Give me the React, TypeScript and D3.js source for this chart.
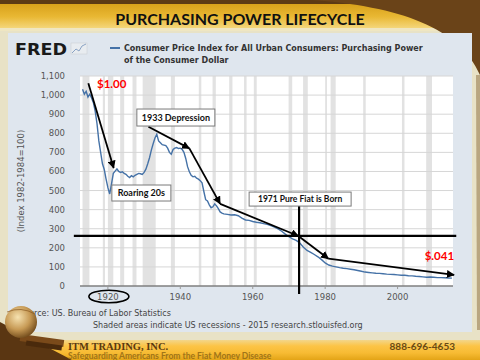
import * as d3 from "d3";

// purchasing power of the dollar (index 1982-84=100)
const years = [
  1913, 1913.5, 1914, 1914.5, 1915, 1915.5, 1916, 1916.5, 1917, 1917.5, 1918, 1918.5,
  1919, 1919.5, 1920, 1920.5, 1921, 1921.5, 1922, 1922.5, 1923, 1923.5, 1924, 1924.5,
  1925, 1925.5, 1926, 1926.5, 1927, 1927.5, 1928, 1928.5, 1929, 1929.5, 1930, 1930.5,
  1931, 1931.5, 1932, 1932.5, 1933, 1933.5, 1934, 1934.5, 1935, 1935.5, 1936, 1936.5,
  1937, 1937.5, 1938, 1938.5, 1939, 1939.5, 1940, 1940.5, 1941, 1941.5, 1942, 1942.5,
  1943, 1943.5, 1944, 1944.5, 1945, 1945.5, 1946, 1946.5, 1947, 1947.5, 1948, 1948.5,
  1949, 1949.5, 1950, 1950.5, 1951, 1951.5, 1952, 1953, 1954, 1955, 1956, 1957, 1958,
  1959, 1960, 1961, 1962, 1963, 1964, 1965, 1966, 1967, 1968, 1969, 1970, 1971, 1972,
  1973, 1974, 1975, 1976, 1977, 1978, 1979, 1980, 1981, 1982, 1983, 1984, 1985, 1986,
  1987, 1988, 1989, 1990, 1991, 1992, 1993, 1994, 1995, 1996, 1997, 1998, 1999, 2000,
  2001, 2002, 2003, 2004, 2005, 2006, 2007, 2008, 2009, 2010, 2011, 2012, 2013, 2014,
  2015,
];
const power = [
  1030, 1005, 1020, 990, 1005, 985, 960, 915, 850, 760, 700, 640,
  610, 560, 515, 482, 535, 590, 602, 613, 600, 595, 598, 590,
  585, 575, 568, 578, 572, 580, 585, 590, 588, 584, 595, 612,
  640, 672, 712, 745, 775, 795, 760, 750, 740, 738, 735, 722,
  700, 690, 715, 722, 725, 720, 722, 716, 700, 668, 625, 598,
  580, 572, 575, 565, 560, 552, 540, 495, 452, 445, 425, 410,
  415, 430, 420, 405, 388, 382, 378, 375, 372, 373, 368, 356, 346,
  344, 338, 334, 331, 327, 323, 317, 309, 299, 287, 272, 258, 247, 239,
  225, 203, 186, 176, 165, 153, 138, 121, 110, 104, 100, 96, 93, 91,
  88, 85, 81, 77, 73, 71, 69, 67, 66, 64, 62, 61, 60, 58,
  56, 56, 54, 53, 51, 50, 48, 46, 47, 46, 44, 44, 43, 42,
  41,
];

// NBER recessions [start, end]
const recessionStart = [1913.0, 1918.6, 1920.0, 1923.4, 1926.8, 1929.6, 1937.4, 1945.1, 1948.9, 1953.5, 1957.6, 1960.3, 1969.9, 1973.9, 1980.0, 1981.5, 1990.5, 2001.2, 2007.9];
const recessionEnd = [1914.9, 1919.2, 1921.5, 1924.5, 1927.9, 1933.2, 1938.5, 1945.8, 1949.8, 1954.4, 1958.3, 1961.1, 1970.9, 1975.2, 1980.5, 1982.9, 1991.2, 2001.9, 2009.5];

const yTicks = [0, 100, 200, 300, 400, 500, 600, 700, 800, 900, 1000, 1100];
const xTicks = [1920, 1940, 1960, 1980, 2000];

// annotation arrows in (year, value)
const dollarArrow: [number, number][] = [[1914.6, 1062], [1921.6, 618]];
const trendArrow: [number, number][] = [
  [1931.2, 834], [1942.5, 721], [1951.0, 430], [1972.6, 262], [1980.9, 143], [2015.6, 58],
];
const flatLevel = 263;
const flatYear = 1972.8;

const App = () => {
  const width = 480;
  const height = 360;
  const plot = { left: 80, right: 453, top: 76, bottom: 286 };

  const x = d3.scaleLinear().domain([1912.3, 2015.3]).range([plot.left, plot.right]);
  const y = d3.scaleLinear().domain([0, 1100]).range([plot.bottom, plot.top]);

  const line = d3
    .line<number>()
    .x((_, i) => x(years[i]))
    .y((d) => y(d));

  const axisFont = "'DejaVu Sans', Verdana, sans-serif";
  const calibri = "Lato, 'Open Sans', sans-serif";

  const box = (label: string, yr: number, val: number, w: number, h: number, fs: number) => (
    <g key={label}>
      <rect x={x(yr)} y={y(val)} width={w} height={h} fill="#fff" stroke="#7a7a7a" strokeWidth={1} />
      <text
        x={x(yr) + w / 2}
        y={y(val) + h / 2}
        dy="0.35em"
        textAnchor="middle"
        fontFamily={calibri}
        fontWeight={700}
        fontSize={fs}
        fill="#111"
      >
        {label}
      </text>
    </g>
  );

  return (
    <div style={{ position: "fixed", left: 0, top: 0 }}>
      <svg width={width} height={height} style={{ display: "block" }}>
        <defs>
          <linearGradient id="goldTop" x1="0" y1="0" x2="0" y2="1">
            <stop offset="0" stopColor="#d39a12" />
            <stop offset="0.6" stopColor="#e9b834" />
            <stop offset="1" stopColor="#f4d67a" />
          </linearGradient>
          <linearGradient id="goldBottom" x1="0" y1="0" x2="0" y2="1">
            <stop offset="0" stopColor="#f3d68a" />
            <stop offset="0.3" stopColor="#fcc446" />
            <stop offset="0.65" stopColor="#f7bb33" />
            <stop offset="1" stopColor="#e3a416" />
          </linearGradient>
          <radialGradient id="globe" cx="0.4" cy="0.35" r="0.7">
            <stop offset="0" stopColor="#f6e2b0" />
            <stop offset="0.55" stopColor="#c79a55" />
            <stop offset="1" stopColor="#6b4517" />
          </radialGradient>
          <marker id="arr" viewBox="0 0 10 10" refX="9" refY="5" markerWidth="4.5" markerHeight="4.5" orient="auto">
            <path d="M0,0 L10,5 L0,10 Z" fill="#000" />
          </marker>
        </defs>

        {/* slide background */}
        <rect x={0} y={0} width={width} height={height} fill="#e8e2c6" />
        <rect x={0} y={0} width={width} height={28} fill="url(#goldTop)" />
        <rect x={0} y={28} width={width} height={3} fill="#efe6c2" />
        <rect x={0} y={0} width={width} height={4} fill="#5c3a14" />
        <path d="M310,0 C400,6 460,28 480,75 L480,0 Z" fill="#6a4318" />
        <path d="M476,75 L480,75 L480,330 L477,330 Z" fill="#8a6a3a" opacity={0.5} />
        <rect x={0} y={340} width={width} height={20} fill="url(#goldBottom)" />

        <text
          x={240}
          y={25}
          textAnchor="middle"
          fontFamily={calibri}
          fontWeight={700}
          fontSize={16}
          fill="#111"
        >
          PURCHASING POWER LIFECYCLE
        </text>

        {/* FRED panel */}
        <rect x={8} y={33} width={464} height={299} fill="#dfe6ee" />
        <text x={15} y={54.5} fontFamily={axisFont} fontWeight={700} fontSize={15} textLength={52} lengthAdjust="spacingAndGlyphs" fill="#1a1a1a">
          FRED
        </text>
        <rect x={71} y={43} width={16} height={11} fill="#e8ecf0" stroke="#c8ccd0" strokeWidth={0.5} />
        <path d="M72,53 L76,49 L79,51 L82,46 L86,44" fill="none" stroke="#8aa3c4" strokeWidth={1} />

        <line x1={110} x2={120} y1={48} y2={48} stroke="#4572a7" strokeWidth={2} />
        <text x={124} y={51} fontFamily={axisFont} fontWeight={700} fontSize={8} fill="#333">
          Consumer Price Index for All Urban Consumers: Purchasing Power
        </text>
        <text x={124} y={63} fontFamily={axisFont} fontWeight={700} fontSize={8} fill="#333">
          of the Consumer Dollar
        </text>

        {/* plot area */}
        <rect x={plot.left} y={plot.top} width={plot.right - plot.left} height={plot.bottom - plot.top} fill="#fff" />
        {recessionStart.map((s, i) => (
          <rect
            key={"r" + i}
            x={x(s)}
            y={plot.top}
            width={Math.max(1.5, x(recessionEnd[i]) - x(s))}
            height={plot.bottom - plot.top}
            fill="#e2e2e2"
          />
        ))}
        {yTicks.map((t) => (
          <g key={"y" + t}>
            <line x1={plot.left} x2={plot.right} y1={y(t)} y2={y(t)} stroke="#d6d6d6" strokeWidth={1} />
            <text x={65} y={y(t)} dy="0.35em" textAnchor="end" fontFamily={axisFont} fontSize={8.5} fill="#555">
              {d3.format(",")(t)}
            </text>
          </g>
        ))}
        <line x1={plot.left} x2={plot.right} y1={plot.bottom} y2={plot.bottom} stroke="#555" strokeWidth={1.2} />
        {xTicks.map((t) => (
          <g key={"x" + t}>
            <line x1={x(t)} x2={x(t)} y1={plot.bottom} y2={plot.bottom + 3} stroke="#999" />
            <text x={x(t)} y={plot.bottom + 14} textAnchor="middle" fontFamily={axisFont} fontSize={8.5} fill="#555">
              {t}
            </text>
          </g>
        ))}
        <text
          transform={`translate(24,${(plot.top + plot.bottom) / 2}) rotate(-90)`}
          textAnchor="middle"
          fontFamily={axisFont}
          fontSize={8.5}
          fill="#555"
        >
          (Index 1982-1984=100)
        </text>

        <path d={line(power) ?? ""} fill="none" stroke="#4572a7" strokeWidth={1.4} />

        {/* annotations */}
        <line x1={x(1910.6)} x2={x(2016.2)} y1={y(flatLevel)} y2={y(flatLevel)} stroke="#000" strokeWidth={2.2} />
        <line x1={x(flatYear)} x2={x(flatYear)} y1={y(419)} y2={plot.bottom + 8} stroke="#000" strokeWidth={2.2} />

        <line
          x1={x(dollarArrow[0][0])}
          y1={y(dollarArrow[0][1])}
          x2={x(dollarArrow[1][0])}
          y2={y(dollarArrow[1][1])}
          stroke="#000"
          strokeWidth={1.8}
          markerEnd="url(#arr)"
        />
        {trendArrow.slice(1).map((p, i) => (
          <line
            key={"a" + i}
            x1={x(trendArrow[i][0])}
            y1={y(trendArrow[i][1])}
            x2={x(p[0])}
            y2={y(p[1])}
            stroke="#000"
            strokeWidth={1.8}
            markerEnd="url(#arr)"
          />
        ))}

        {box("1933 Depression", 1928.0, 927, 78, 17, 9)}
        {box("Roaring 20s", 1921.1, 529, 59, 16, 9)}
        {box("1971 Pure Fiat is Born", 1959.0, 492, 102, 14, 8.5)}

        <text x={x(1917.0)} y={y(1037)} fontFamily={calibri} fontWeight={700} fontSize={11.5} fill="#ff0000">
          $1.00
        </text>
        <text x={x(2015.6)} y={y(136)} textAnchor="end" fontFamily={calibri} fontWeight={700} fontSize={11.5} fill="#ff0000">
          $.041
        </text>
        <ellipse cx={x(1920) + 1} cy={plot.bottom + 10.5} rx={20} ry={6.3} fill="none" stroke="#000" strokeWidth={1.6} />

        <text x={19} y={316} fontFamily={axisFont} fontSize={8} fill="#444">
          Source: US. Bureau of Labor Statistics
        </text>
        <text x={93} y={328} fontFamily={axisFont} fontSize={8} fill="#444">
          Shaded areas indicate US recessions - 2015 research.stlouisfed.org
        </text>

        {/* logo corner */}
        <path d="M0,322 Q30,338 72,360 L0,360 Z" fill="#5a3612" />
        <rect x={20} y={337} width={44} height={7} fill="#7a4a1a" transform="rotate(8,42,340)" />
        <rect x={26} y={343} width={36} height={5} fill="#4a2a0c" transform="rotate(8,44,345)" />
        <circle cx={21} cy={322} r={16} fill="url(#globe)" />
        <path d="M7,312 Q21,306 35,314" fill="none" stroke="#8a5a22" strokeWidth={1} opacity={0.7} />

        <text x={68} y={350} fontFamily="'Liberation Serif', 'DejaVu Serif', serif" fontWeight={700} fontSize={10.5} fill="#5a3a10">
          ITM TRADING, INC.
        </text>
        <text x={68} y={358.5} fontFamily={calibri} fontWeight={700} fontSize={8.5} fill="#a07418">
          Safeguarding Americans From the Fiat Money Disease
        </text>
        <text x={455} y={350} textAnchor="end" fontFamily={calibri} fontWeight={700} fontSize={10} fill="#6a4a14">
          888-696-4653
        </text>
      </svg>
    </div>
  );
};

export default App;
